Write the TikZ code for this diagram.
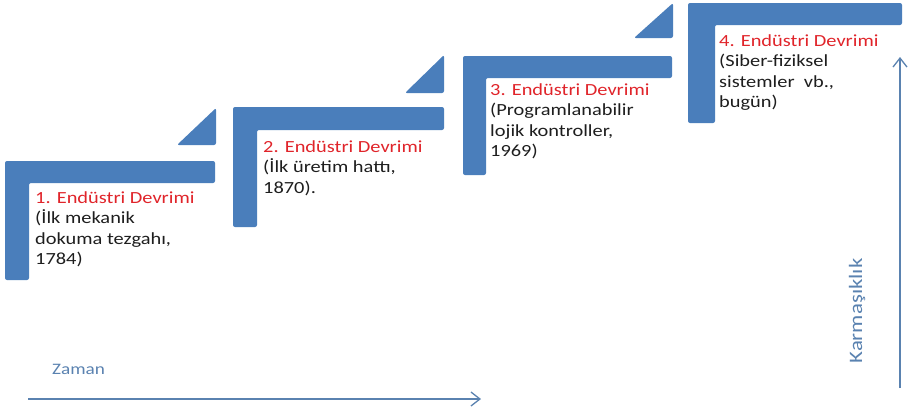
\documentclass[tikz,border=0pt]{standalone}
\usepackage{fontspec}
\setmainfont{Carlito}[FakeStretch=1.2]
\usetikzlibrary{arrows.meta}
\definecolor{stepblue}{HTML}{4A7EBB}
\definecolor{titlered}{HTML}{E0242A}
\definecolor{axisblue}{HTML}{5A82B0}
\definecolor{textgray}{HTML}{1E1E1E}

\begin{document}
\begin{tikzpicture}[x=1pt, y=-1pt,
    stepbar/.style={fill=stepblue, rounded corners=2pt},
    steptext/.style={anchor=north west, inner sep=0pt, align=left, text=textgray, font=\fontsize{17}{20.5}\selectfont},
    axis/.style={draw=axisblue, line width=1.3pt, -{Straight Barb[length=9pt,width=14pt]}},
    axistext/.style={text=axisblue, inner sep=0pt}]
    \useasboundingbox (0,0) rectangle (908,413);
    % step 1
    \fill[stepbar] (5,161) -- (215,161) -- (215,183) -- (29,183) -- (29,280) -- (5,280) -- cycle;
    \fill[stepbar] (177,145) -- (216,145) -- (216,108) -- cycle;
    \node[steptext] (rev1) at (35,191) {\textcolor{titlered}{1. Endüstri Devrimi}\\(İlk mekanik\\dokuma tezgahı,\\1784)};
    % step 2
    \fill[stepbar] (233,107) -- (444,107) -- (444,130) -- (257,130) -- (257,227) -- (233,227) -- cycle;
    \fill[stepbar] (405,93) -- (444,93) -- (444,55) -- cycle;
    \node[steptext] (rev2) at (263,140) {\textcolor{titlered}{2. Endüstri Devrimi}\\(İlk üretim hattı,\\1870).};
    % step 3
    \fill[stepbar] (463,56) -- (672,56) -- (672,78) -- (486,78) -- (486,175) -- (463,175) -- cycle;
    \fill[stepbar] (634,38) -- (673,38) -- (673,3) -- cycle;
    \node[steptext] (rev3) at (490,83) {\textcolor{titlered}{3. Endüstri Devrimi}\\(Programlanabilir\\lojik kontroller,\\1969)};
    % step 4
    \fill[stepbar] (688,3) -- (902,3) -- (902,25) -- (715,25) -- (715,123) -- (688,123) -- cycle;
    \node[steptext] (rev4) at (719,34) {\textcolor{titlered}{4. Endüstri Devrimi}\\(Siber-fiziksel\\sistemler~~vb.,\\bugün)};
    % axes
    \coordinate (t0) at (28,399);
    \coordinate (t1) at (481,399);
    \draw[axis] (t0) -- (t1);
    \node[axistext, anchor=base west, font=\fontsize{16}{19}\selectfont] (zaman) at (52,374) {Zaman};
    \coordinate (k0) at (900,388);
    \coordinate (k1) at (900,57);
    \draw[axis] (k0) -- (k1);
    \node[axistext, rotate=90, font=\fontsize{19}{22}\selectfont] (karmasiklik) at (857,311) {Karmaşıklık};
\end{tikzpicture}
\end{document}
